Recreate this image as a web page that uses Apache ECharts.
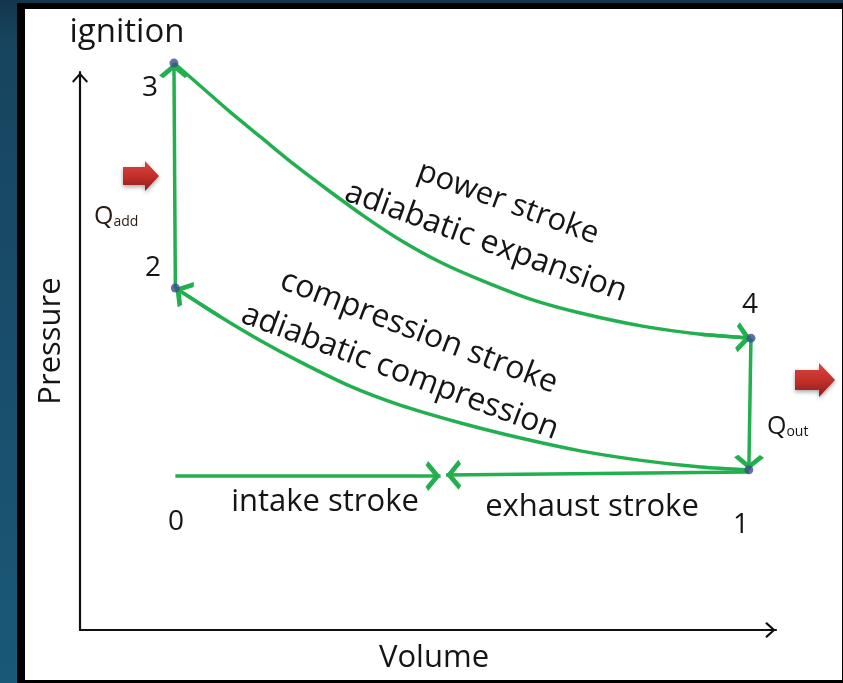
<!DOCTYPE html>
<html>
<head>
<meta charset="utf-8">
<script src="https://cdn.jsdelivr.net/npm/echarts@6/dist/echarts.min.js"></script>
<style>
  html, body { margin: 0; padding: 0; width: 843px; height: 683px; overflow: hidden;
    background: linear-gradient(to bottom, #12364c 0px, #17445f 40px, #1a5878 683px); }
  #frame { position: absolute; left: 17px; top: 3px; width: 826px; height: 680px; background: #000; }
  #paper { position: absolute; left: 25px; top: 9px; width: 817px; height: 671px; background: #fff; }
  #chart { position: absolute; left: 0; top: 0; width: 843px; height: 683px; }
</style>
</head>
<body>
<div id="frame"></div>
<div id="paper"></div>
<div id="chart"></div>
<script>
// ---- data (arbitrary volume / pressure units) ----
const stateNames    = ['1', '2', '3', '4'];
const stateVolume   = [96.1, 13.7, 13.5, 96.4];
const statePressure = [28.7, 61.3, 101.6, 52.3];

// power stroke 3 -> 4 (adiabatic expansion)
const powerV = [13.5, 17.3, 21.6, 25.9, 30.9, 36.0, 41.0, 46.0, 51.8, 57.6, 64.7, 71.9, 80.6, 89.2, 96.4];
const powerP = [101.6, 97.5, 92.8, 88.4, 83.3, 78.5, 74.0, 69.9, 65.9, 62.7, 59.3, 56.8, 54.5, 53.0, 52.3];

// compression stroke 1 -> 2 (adiabatic compression)
const compV = [96.1, 89.2, 80.6, 71.9, 63.3, 54.7, 46.0, 38.8, 31.7, 25.9, 20.1, 13.7];
const compP = [28.7, 29.2, 30.4, 32.1, 34.4, 37.1, 40.3, 43.7, 48.0, 51.9, 56.2, 61.3];

// intake stroke 0 -> mid, exhaust stroke 1 -> mid
const intakeV  = [13.7, 51.8];
const intakeP  = [27.6, 27.6];
const exhaustV = [96.1, 52.6];
const exhaustP = [28.3, 27.8];

const GREEN = '#22b04f';
const chevron = 'path://M10,-14 M10,0 L20,11.5 L17.2,14 L10,5.8 L2.8,14 L0,11.5 Z';
const axisChevron = 'path://M10,-14 M10,0 L20,11 L18.2,13 L10,4 L1.8,13 L0,11 Z';

const zip = (a, b) => a.map((v, i) => [v, b[i]]);
const seg = (v, p, i, j) => ({ coords: [[v[i], p[i]], [v[j], p[j]]] });

const FONT = '"Open Sans"';
const chart = echarts.init(document.getElementById('chart'), null, { renderer: 'canvas' });

function txt(text, x, y, size, rot, extra) {
  return Object.assign({
    type: 'text', x: x, y: y, rotation: (rot || 0) * Math.PI / 180, z: 100,
    style: { text: text, fontFamily: FONT, fontSize: size, fill: '#151515',
      textAlign: 'center', textVerticalAlign: 'middle' }
  }, extra || {});
}

const arrowGrad = new echarts.graphic.LinearGradient(0, 0, 0, 1, [
  { offset: 0, color: '#d9473f' }, { offset: 0.5, color: '#c3302a' }, { offset: 1, color: '#8e1d1a' }
]);
function redArrow(x0, tip, yc, bodyH, headH, headL) {
  return {
    type: 'polygon', z: 50,
    shape: { points: [
      [x0, yc - bodyH / 2], [tip - headL, yc - bodyH / 2], [tip - headL, yc - headH / 2],
      [tip, yc], [tip - headL, yc + headH / 2], [tip - headL, yc + bodyH / 2], [x0, yc + bodyH / 2]
    ] },
    style: { fill: arrowGrad, shadowBlur: 4, shadowColor: 'rgba(0,0,0,0.35)', shadowOffsetY: 2 }
  };
}

const option = {
  animation: false,
  grid: { left: 80, right: 67, top: 72, bottom: 53 },
  xAxis: {
    type: 'value', min: 0, max: 100,
    name: 'Volume', nameLocation: 'middle', nameGap: 13,
    nameTextStyle: { fontFamily: FONT, fontSize: 31, color: '#151515', padding: [0, 0, 0, 12] },
    axisLine: { show: true, symbol: ['none', axisChevron], symbolSize: [16, 26],
      lineStyle: { color: '#111', width: 2.2 } },
    axisTick: { show: false }, axisLabel: { show: false }, splitLine: { show: false }
  },
  yAxis: {
    type: 'value', min: 0, max: 100,
    name: 'Pressure', nameLocation: 'middle', nameGap: 13,
    nameTextStyle: { fontFamily: FONT, fontSize: 31, color: '#151515', padding: [0, 0, 0, 20] },
    axisLine: { show: true, symbol: ['none', axisChevron], symbolSize: [16, 26],
      lineStyle: { color: '#111', width: 2.2 } },
    axisTick: { show: false }, axisLabel: { show: false }, splitLine: { show: false }
  },
  series: [
    { name: 'power stroke', type: 'line', data: zip(powerV, powerP), smooth: 0.3,
      showSymbol: false, clip: false,
      lineStyle: { color: GREEN, width: 3.5 } },
    { name: 'compression stroke', type: 'line', data: zip(compV, compP), smooth: 0.3,
      showSymbol: false, clip: false,
      lineStyle: { color: GREEN, width: 3.5 } },
    { name: 'strokes', type: 'lines', coordinateSystem: 'cartesian2d', clip: false,
      symbol: ['none', chevron], symbolSize: [22, 30],
      lineStyle: { color: GREEN, width: 3.5, opacity: 1, curveness: 0 },
      data: [
        seg(stateVolume, statePressure, 1, 2),               // 2 -> 3 heat addition
        seg(stateVolume, statePressure, 3, 0),               // 4 -> 1 heat rejection
        seg(intakeV, intakeP, 0, 1),                          // intake
        seg(exhaustV, exhaustP, 0, 1),                        // exhaust
        seg(powerV, powerP, powerV.length - 2, powerV.length - 1),
        seg(compV, compP, compV.length - 2, compV.length - 1)
      ] },
    { name: 'states', type: 'scatter', clip: false, symbolSize: 9, z: 10,
      itemStyle: { color: '#3a4f8c' },
      data: stateNames.map((n, i) => ({ name: n, value: [stateVolume[i], statePressure[i]] })) }
  ],
  graphic: [
    txt('ignition', 127, 33, 33),
    txt('3', 150, 88, 28),
    txt('2', 153, 268, 28),
    txt('4', 750, 305, 28),
    txt('0', 176, 522, 28),
    txt('1', 741, 525, 28),
    txt('intake stroke', 325, 502, 31),
    txt('exhaust stroke', 592, 507, 31),
    txt('power stroke', 508, 203, 31, -20),
    txt('adiabatic expansion', 486, 242, 32, -20),
    txt('compression stroke', 419, 332, 32, -21),
    txt('adiabatic compression', 400, 372, 32, -20.5),
    { type: 'text', x: 94, y: 215, z: 100,
      style: { text: '{q|Q}{s|add}', textAlign: 'left', textVerticalAlign: 'middle',
        rich: { q: { fontFamily: FONT, fontSize: 25, fill: '#2a1a10', verticalAlign: 'bottom', lineHeight: 28 },
                s: { fontFamily: FONT, fontSize: 14, fill: '#2a1a10', verticalAlign: 'bottom', lineHeight: 24 } } } },
    { type: 'text', x: 767, y: 425, z: 100,
      style: { text: '{q|Q}{s|out}', textAlign: 'left', textVerticalAlign: 'middle',
        rich: { q: { fontFamily: FONT, fontSize: 25, fill: '#151515', verticalAlign: 'bottom', lineHeight: 28 },
                s: { fontFamily: FONT, fontSize: 14, fill: '#151515', verticalAlign: 'bottom', lineHeight: 24 } } } },
    redArrow(123, 159, 176, 18, 30, 14),
    redArrow(795, 835, 380, 20, 34, 16)
  ]
};
chart.setOption(option);
</script>
</body>
</html>
